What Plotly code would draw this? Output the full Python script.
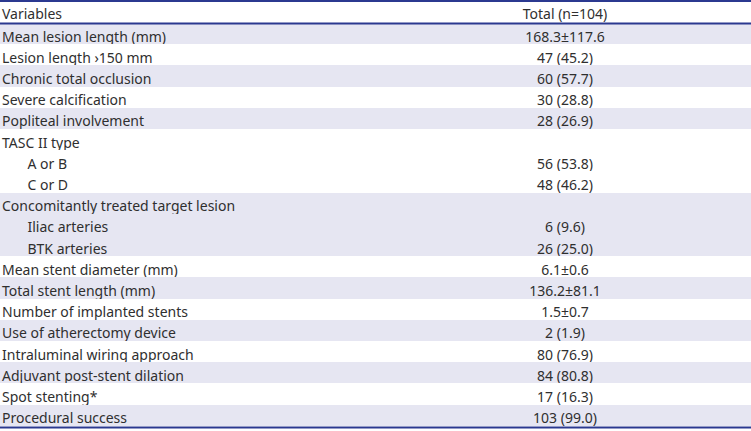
import plotly.graph_objects as go

header = ["Variables", "Total (n=104)"]
variables = [
    "Mean lesion length (mm)",
    "Lesion length \u203a150 mm",
    "Chronic total occlusion",
    "Severe calcification",
    "Popliteal involvement",
    "TASC II type",
    "A or B",
    "C or D",
    "Concomitantly treated target lesion",
    "Iliac arteries",
    "BTK arteries",
    "Mean stent diameter (mm)",
    "Total stent length (mm)",
    "Number of implanted stents",
    "Use of atherectomy device",
    "Intraluminal wiring approach",
    "Adjuvant post-stent dilation",
    "Spot stenting*",
    "Procedural success",
]
values = [
    "168.3±117.6",
    "47 (45.2)",
    "60 (57.7)",
    "30 (28.8)",
    "28 (26.9)",
    "",
    "56 (53.8)",
    "48 (46.2)",
    "",
    "6 (9.6)",
    "26 (25.0)",
    "6.1±0.6",
    "136.2±81.1",
    "1.5±0.7",
    "2 (1.9)",
    "80 (76.9)",
    "84 (80.8)",
    "17 (16.3)",
    "103 (99.0)",
]
indented = [False, False, False, False, False, False, True, True, False, True, True,
            False, False, False, False, False, False, False, False]
shaded = [True, False, True, False, True, False, False, False, True, True, True,
          False, True, False, True, False, True, False, True]

SHADE = "#e6e6f2"
WHITE = "#ffffff"
LINE = "#2b3990"
TXT = "#2f2f2f"

col1 = [("\u00a0" * 7 + v) if ind else v for v, ind in zip(variables, indented)]
fills = [SHADE if s else WHITE for s in shaded]

SHIFT = 6
W, H = 751 + SHIFT, 431

fig = go.Figure(go.Table(
    columnwidth=[385, 372],
    header=dict(
        values=header,
        align=["left", "center"],
        fill_color=WHITE,
        line=dict(width=0, color=WHITE),
        font=dict(family="Noto Sans", size=14, color=TXT),
        height=23,
    ),
    cells=dict(
        values=[col1, values],
        align=["left", "center"],
        fill_color=[fills, fills],
        line=dict(width=0, color=WHITE),
        font=dict(family="Noto Sans", size=14, color=TXT),
        height=21.2,
    ),
    domain=dict(x=[0, 1], y=[0, 1]),
))

def hline(py, w):
    y = 1 - py / H
    fig.add_shape(type="line", xref="paper", yref="paper", x0=0, x1=1, y0=y, y1=y,
                  line=dict(color=LINE, width=w))

hline(1, 2)
hline(23.5, 2)
hline(427.5, 2)

fig.update_layout(
    width=W, height=H,
    margin=dict(l=0, r=0, t=0, b=0),
    paper_bgcolor="white",
    plot_bgcolor="white",
)

fig.write_html(
    "out.html",
    config={"displayModeBar": False},
    post_script="document.body.style.margin='0px';document.body.style.marginLeft='-%dpx';document.body.style.overflow='hidden';" % SHIFT,
)
